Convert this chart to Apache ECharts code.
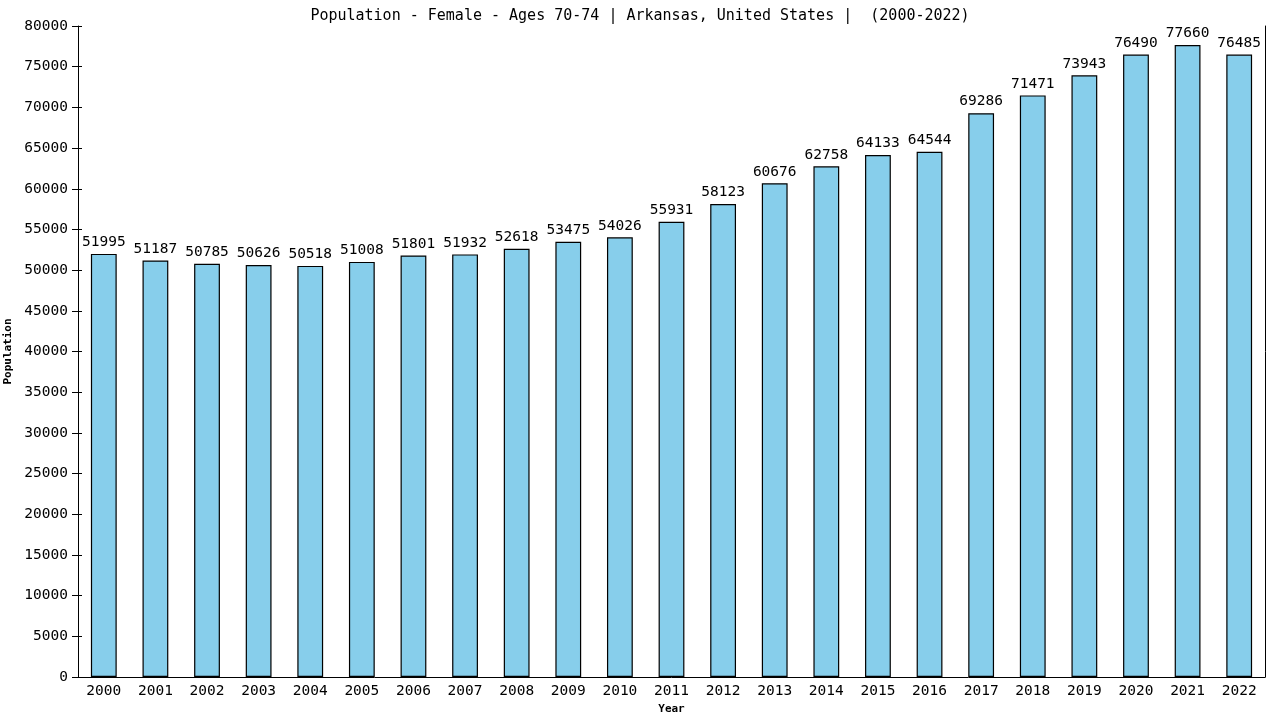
<!DOCTYPE html>
<html>
<head>
<meta charset="utf-8">
<script src="https://cdn.jsdelivr.net/npm/echarts@6/dist/echarts.min.js"></script>
<style>
  html, body { margin: 0; padding: 0; background: #fff; }
  #chart { width: 1280px; height: 720px; }
</style>
</head>
<body>
<div id="chart"></div>
<script>
var years = ['2000','2001','2002','2003','2004','2005','2006','2007','2008','2009','2010','2011',
             '2012','2013','2014','2015','2016','2017','2018','2019','2020','2021','2022'];
var population = [51995, 51187, 50785, 50626, 50518, 51008, 51801, 51932, 52618, 53475, 54026, 55931,
                  58123, 60676, 62758, 64133, 64544, 69286, 71471, 73943, 76490, 77660, 76485];

var chart = echarts.init(document.getElementById('chart'));
var mono = 'DejaVu Sans Mono';

var option = {
  backgroundColor: '#ffffff',
  animation: false,
  title: {
    text: 'Population - Female - Ages 70-74 | Arkansas, United States |  (2000-2022)',
    left: 'center',
    top: 4,
    textStyle: { fontFamily: mono, fontSize: 15, fontWeight: 'normal', color: '#000' }
  },
  grid: { left: 78, right: 15, top: 26, bottom: 43, containLabel: false, outerBoundsMode: 'none' },
  xAxis: {
    type: 'category',
    data: years,
    name: 'Year',
    nameLocation: 'middle',
    nameGap: 27,
    nameTextStyle: { fontFamily: mono, fontSize: 11, fontWeight: 'bold', color: '#000' },
    axisLine: { lineStyle: { color: '#000', width: 1 } },
    axisTick: { show: false },
    axisLabel: { fontFamily: mono, fontSize: 14.5, color: '#000', margin: 7, interval: 0 }
  },
  yAxis: [
    {
      type: 'value',
      min: 0, max: 80000, interval: 5000,
      name: 'Population',
      nameLocation: 'middle',
      nameGap: 60,
      nameTextStyle: { fontFamily: mono, fontSize: 11, fontWeight: 'bold', color: '#000' },
      axisLine: { show: true, lineStyle: { color: '#000', width: 1 } },
      axisTick: { show: true, length: 6, lineStyle: { color: '#000' } },
      axisLabel: { fontFamily: mono, fontSize: 14.5, color: '#000', margin: 10,
                   formatter: function (v) { return String(v); } },
      splitLine: { show: false }
    },
    {
      type: 'value',
      min: 0, max: 80000, interval: 5000,
      position: 'right',
      axisLine: { show: true, lineStyle: { color: '#000', width: 1 } },
      axisTick: { show: false },
      axisLabel: { show: false },
      splitLine: { show: false }
    },
    {
      type: 'value',
      min: 0, max: 80000, interval: 5000,
      position: 'left',
      axisLine: { show: false },
      axisTick: { show: true, inside: true, length: 4, lineStyle: { color: '#000' } },
      axisLabel: { show: false },
      splitLine: { show: false }
    }
  ],
  series: [{
    type: 'bar',
    data: population,
    barWidth: '50%',
    itemStyle: { color: '#87ceeb', borderColor: '#000', borderWidth: 1.2 },
    label: {
      show: true,
      position: 'top',
      distance: 4,
      fontFamily: mono,
      fontSize: 14.5,
      color: '#000'
    }
  }]
};
chart.setOption(option);
</script>
</body>
</html>
